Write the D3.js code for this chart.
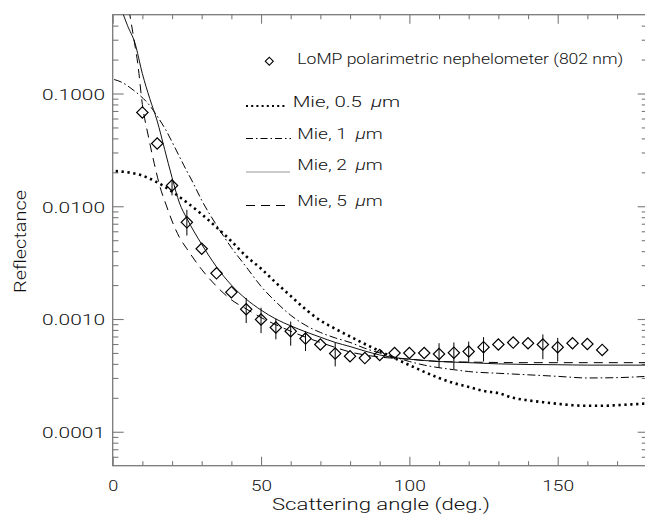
<!DOCTYPE html>
<html>
<head>
<meta charset="utf-8">
<script src="https://cdn.jsdelivr.net/npm/d3@7"></script>
<style>
  html, body { margin: 0; padding: 0; background: #fff; }
  svg { display: block; }
  text { font-family: "Roboto", "Liberation Sans", sans-serif; font-weight: 300; fill: #111; }
</style>
</head>
<body>
<script>
// ---------------- DATA ----------------
const dataAngles = [10,15,20,25,30,35,40,45,50,55,60,65,70,75,80,85,90,95,100,105,110,115,120,125,130,135,140,145,150,155,160,165];
const dataValues = [0.068,0.036,0.0153,0.0072,0.0042,0.00254,0.00173,0.00122,0.00099,0.00084,0.00078,0.00067,0.000594,0.000494,0.000468,0.00045,0.00048,0.0005,0.0005,0.0005,0.00049,0.000503,0.000515,0.000563,0.000594,0.000618,0.00061,0.000594,0.000563,0.00061,0.0006,0.000532];
// error bars (low, high); null = no visible bar
const errLow  = [null,null,0.0125,0.0055,null,null,null,0.00092,0.00075,0.00066,0.00058,0.00052,null,0.00038,null,null,null,null,null,null,0.00037,0.00036,0.00041,0.00042,null,null,null,0.00044,0.00042,null,null,null];
const errHigh = [null,null,0.0172,0.0093,null,null,null,0.00154,0.00126,0.00101,0.00095,0.00078,null,0.00062,null,null,null,null,null,null,0.00061,0.00062,0.00063,0.00069,null,null,null,0.00073,0.00068,null,null,null];

// Mie 0.5 um
const mie05Angles = [1,5,10,15,20,25,30,35,40,45,50,55,60,65,70,75,80,85,90,95,100,105,110,115,120,125,130,135,140,145,150,155,160,165,170,175,180];
const mie05Values = [0.0205,0.0200,0.0187,0.0163,0.0135,0.0108,0.0085,0.0065,0.0049,0.0036,0.0028,0.0021,0.0016,0.00122,0.00097,0.00082,0.00070,0.00060,0.00052,0.00045,0.00039,0.00034,0.00030,0.00027,0.00025,0.00023,0.00022,0.00020,0.00019,0.000183,0.000177,0.000172,0.00017,0.00017,0.000172,0.000175,0.000178];
// Mie 1 um
const mie1Angles = [0.5,3,6,9,12,15,18,21,24,27,30,35,40,45,50,55,60,65,70,75,80,85,90,95,100,105,110,115,120,130,140,150,160,170,180];
const mie1Values = [0.133,0.126,0.112,0.097,0.081,0.063,0.047,0.033,0.023,0.0163,0.0113,0.0068,0.0043,0.0029,0.00195,0.00142,0.00108,0.00088,0.00076,0.00068,0.00062,0.00055,0.00050,0.00046,0.00042,0.00039,0.00037,0.000355,0.000342,0.00033,0.00032,0.00031,0.000300,0.000302,0.00031];
// Mie 2 um
const mie2Angles = [3,5,7.5,10,12.5,15,17.5,20,22.5,25,30,35,40,45,50,55,60,65,70,75,80,85,90,95,100,110,120,130,140,150,160,170,180];
const mie2Values = [0.55,0.40,0.28,0.15,0.09,0.057,0.032,0.018,0.0107,0.0078,0.0046,0.0029,0.0020,0.0015,0.0012,0.0010,0.00087,0.00077,0.00069,0.00062,0.00057,0.00052,0.00048,0.000455,0.00044,0.00042,0.00041,0.0004,0.000395,0.000393,0.00039,0.00039,0.00039];
// Mie 5 um
const mie5Angles = [5.5,7,8.5,10,12,14,16,18,20,22.5,25,30,35,40,45,50,55,60,65,70,75,80,85,90,100,110,120,140,160,180];
const mie5Values = [0.55,0.32,0.18,0.08,0.042,0.024,0.0147,0.0103,0.0074,0.0053,0.0042,0.00275,0.00195,0.00148,0.00123,0.00103,0.00089,0.00078,0.00069,0.00062,0.00056,0.00051,0.00048,0.00046,0.00044,0.00042,0.000415,0.00041,0.00041,0.00041];

const xMajorTicks = [0,50,100,150];
const xMinorTicks = [10,20,30,40,60,70,80,90,110,120,130,140,160,170];
const yMajorTicks = [0.0001,0.001,0.01,0.1];
const legendSizes = ["0.5","1","2","5"];
const legendDataLabel = "LoMP polarimetric nephelometer (802 nm)";
const xTitle = "Scattering angle (deg.)";
const yTitle = "Reflectance";

// ---------------- LAYOUT ----------------
const W = 645, H = 521;
const L = 112.7, R = 646.7, T = 14.7, B = 465.7;
const axisColor = "#7a7a7a";
const FONT = "Roboto";

const svg = d3.select("body").append("svg").attr("width", W).attr("height", H);

const x = d3.scaleLinear().domain([0, 180]).range([L, R]);
const y = d3.scaleLog().domain([5e-5, 0.5]).range([B, T]);

// minor y ticks: 2..9 x each decade inside domain
const yMinorTicks = [];
for (let e = -5; e <= -1; e++) {
  for (let k = 2; k <= 9; k++) {
    const v = k * Math.pow(10, e);
    if (v > 5e-5 * 1.001 && v < 0.5 * 0.999) yMinorTicks.push(v);
  }
}

function fitWidth(sel, width) {
  sel.attr("textLength", width).attr("lengthAdjust", "spacingAndGlyphs");
}
function styleAxis(g) {
  g.select(".domain").remove();
  g.selectAll("line").attr("stroke", axisColor).attr("stroke-width", 1.1);
}
// target label width: per-character advance
function labelWidth(s) {
  let w = 0;
  for (const ch of s) w += (ch === ".") ? 8 : 11;
  return w;
}

// bottom axis
const gxB = svg.append("g").attr("transform", `translate(0,${B})`)
  .call(d3.axisBottom(x).tickValues(xMajorTicks).tickSize(-9).tickPadding(14.6).tickFormat(d3.format("d")));
styleAxis(gxB);
gxB.selectAll("text").attr("font-size", 15).attr("fill", "#111").attr("font-family", FONT)
  .each(function () { fitWidth(d3.select(this), labelWidth(this.textContent) - 1); });
const gxBm = svg.append("g").attr("transform", `translate(0,${B})`)
  .call(d3.axisBottom(x).tickValues(xMinorTicks).tickSize(-4.5).tickFormat(""));
styleAxis(gxBm);

// top axis
const gxT = svg.append("g").attr("transform", `translate(0,${T})`)
  .call(d3.axisTop(x).tickValues(xMajorTicks).tickSize(-9).tickFormat(""));
styleAxis(gxT);
const gxTm = svg.append("g").attr("transform", `translate(0,${T})`)
  .call(d3.axisTop(x).tickValues(xMinorTicks).tickSize(-4.5).tickFormat(""));
styleAxis(gxTm);

// left axis
const gyL = svg.append("g").attr("transform", `translate(${L},0)`)
  .call(d3.axisLeft(y).tickValues(yMajorTicks).tickSize(-11).tickPadding(7.7).tickFormat(d3.format(".4f")));
styleAxis(gyL);
gyL.selectAll("text").attr("font-size", 15.5).attr("fill", "#111").attr("font-family", FONT).attr("dy", "0.38em")
  .each(function () { fitWidth(d3.select(this), labelWidth(this.textContent) - 0); });
const gyLm = svg.append("g").attr("transform", `translate(${L},0)`)
  .call(d3.axisLeft(y).tickValues(yMinorTicks).tickSize(-5.7).tickFormat(""));
styleAxis(gyLm);

// right axis
const gyR = svg.append("g").attr("transform", `translate(${R},0)`)
  .call(d3.axisRight(y).tickValues(yMajorTicks).tickSize(-9).tickFormat(""));
styleAxis(gyR);
const gyRm = svg.append("g").attr("transform", `translate(${R},0)`)
  .call(d3.axisRight(y).tickValues(yMinorTicks).tickSize(-5).tickFormat(""));
styleAxis(gyRm);

// frame
svg.append("rect").attr("x", L).attr("y", T).attr("width", R - L).attr("height", B - T)
  .attr("fill", "none").attr("stroke", axisColor).attr("stroke-width", 1.3);

// axis titles
const xt = svg.append("text").attr("x", 381).attr("y", 510).attr("text-anchor", "middle")
  .attr("font-size", 17).text(xTitle);
fitWidth(xt, 218);
const yt = svg.append("text").attr("transform", "translate(25.5,241.5) rotate(-90)")
  .attr("text-anchor", "middle").attr("font-size", 17).text(yTitle);
fitWidth(yt, 103);

// clip
svg.append("clipPath").attr("id", "plotclip").append("rect")
  .attr("x", L).attr("y", T).attr("width", R - L).attr("height", B - T);
const plot = svg.append("g").attr("clip-path", "url(#plotclip)");

const line = d3.line().x(d => x(d[0])).y(d => y(d[1])).curve(d3.curveMonotoneX);
const zip = (a, b) => a.map((v, i) => [v, b[i]]);

const curves = [
  { pts: zip(mie05Angles, mie05Values), stroke: "#000", width: 2.6, dash: "2.3,3.6" },
  { pts: zip(mie1Angles, mie1Values), stroke: "#000", width: 1, dash: "8,3,1.6,3" },
  { pts: zip(mie2Angles, mie2Values), stroke: "#111", width: 1, dash: null },
  { pts: zip(mie5Angles, mie5Values), stroke: "#000", width: 1, dash: "9,6" }
];
curves.forEach(c => {
  plot.append("path").attr("d", line(c.pts)).attr("fill", "none")
    .attr("stroke", c.stroke).attr("stroke-width", c.width)
    .attr("stroke-dasharray", c.dash);
});

// error bars
const dataIdx = d3.range(dataAngles.length);
plot.selectAll("line.err").data(dataIdx.filter(i => errLow[i] !== null)).enter()
  .append("line").attr("class", "err")
  .attr("x1", i => x(dataAngles[i])).attr("x2", i => x(dataAngles[i]))
  .attr("y1", i => y(errLow[i])).attr("y2", i => y(errHigh[i]))
  .attr("stroke", "#000").attr("stroke-width", 1);

// diamonds
plot.selectAll("path.pt").data(dataIdx).enter()
  .append("path").attr("class", "pt")
  .attr("d", d3.symbol().type(d3.symbolSquare).size(64)())
  .attr("transform", i => `translate(${x(dataAngles[i])},${y(dataValues[i])}) rotate(45)`)
  .attr("fill", "none").attr("stroke", "#000").attr("stroke-width", 1.2);

// ---------------- LEGEND ----------------
const leg = svg.append("g");
leg.append("path").attr("d", d3.symbol().type(d3.symbolSquare).size(32)())
  .attr("transform", "translate(269.3,61.2) rotate(45)")
  .attr("fill", "none").attr("stroke", "#000").attr("stroke-width", 1.1);
const lt0 = leg.append("text").attr("x", 297.3).attr("y", 63.5).attr("font-size", 15).text(legendDataLabel);
fitWidth(lt0, 326);

const legRows = [
  { tx: 292.7, ty: 106.5, tw: 107.5, ly: 106, x1: 246, x2: 287, stroke: "#000", width: 2, dash: "2,3.2" },
  { tx: 297.3, ty: 139.2, tw: 85.4, ly: 138.5, x1: 246, x2: 291, stroke: "#000", width: 1, dash: "7,3,1.5,3" },
  { tx: 297.3, ty: 170.3, tw: 85.4, ly: 172, x1: 246, x2: 290, stroke: "#999", width: 1.2, dash: null },
  { tx: 297.3, ty: 205.5, tw: 85.4, ly: 205.5, x1: 246, x2: 290, stroke: "#000", width: 1, dash: "9,6" }
];
legRows.forEach((r, i) => {
  leg.append("line").attr("x1", r.x1).attr("x2", r.x2).attr("y1", r.ly).attr("y2", r.ly)
    .attr("stroke", r.stroke).attr("stroke-width", r.width).attr("stroke-dasharray", r.dash);
  const t = leg.append("text").attr("x", r.tx).attr("y", r.ty).attr("font-size", 15);
  t.append("tspan").text("Mie, " + legendSizes[i] + " ");
  t.append("tspan").attr("font-style", "italic").attr("dx", 3).text("\u03bc");
  t.append("tspan").text("m");
  fitWidth(t, r.tw);
});
</script>
</body>
</html>
